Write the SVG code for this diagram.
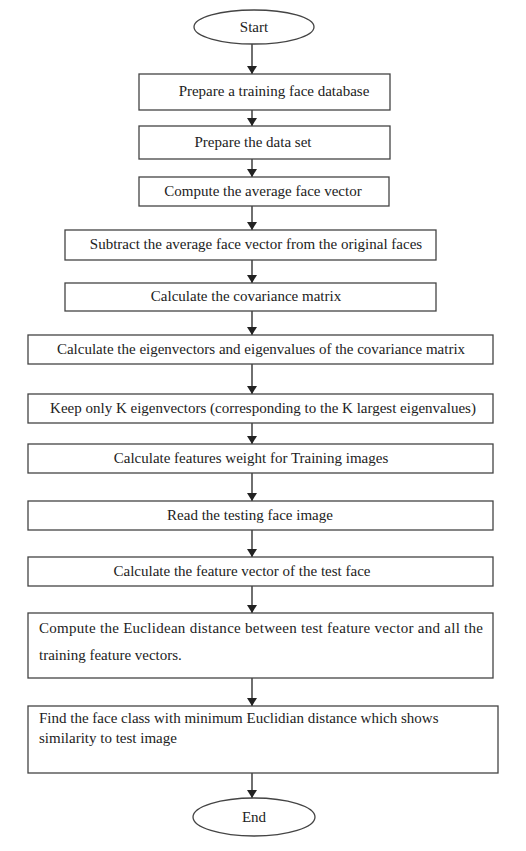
<svg xmlns="http://www.w3.org/2000/svg" width="526" height="851" viewBox="0 0 526 851">
<defs>
<marker id="ah" viewBox="0 0 8 10" refX="8" refY="5" markerWidth="8" markerHeight="10" markerUnits="userSpaceOnUse" orient="auto">
<path d="M0,0 L8,5 L0,10 Z" fill="#222"/>
</marker>
<style>
.b{fill:#fff;stroke:#444;stroke-width:1.3}
.t{font-family:"Liberation Serif","Times New Roman",serif;font-size:15px;fill:#222}
.c{text-anchor:middle}
.a{stroke:#222;stroke-width:1.3;fill:none;marker-end:url(#ah)}
</style>
</defs>
<rect width="526" height="851" fill="#fff"/>
<g id="connectors">
<line class="a" x1="252" y1="44" x2="252" y2="74"/>
<line class="a" x1="252" y1="110" x2="252" y2="126"/>
<line class="a" x1="252" y1="159" x2="252" y2="177"/>
<line class="a" x1="252" y1="206" x2="252" y2="230"/>
<line class="a" x1="252" y1="260" x2="252" y2="283"/>
<line class="a" x1="252" y1="311" x2="252" y2="335"/>
<line class="a" x1="252" y1="364" x2="252" y2="394"/>
<line class="a" x1="252" y1="423" x2="252" y2="444"/>
<line class="a" x1="252" y1="473" x2="252" y2="501"/>
<line class="a" x1="252" y1="530" x2="252" y2="557"/>
<line class="a" x1="252" y1="586" x2="252" y2="613"/>
<line class="a" x1="252" y1="678" x2="252" y2="706"/>
<line class="a" x1="252" y1="773" x2="252" y2="798"/>
</g>
<g id="start"><ellipse class="b" cx="254" cy="27" rx="60" ry="17"/><text class="t c" x="254" y="32">Start</text></g>
<g id="n1"><rect class="b" x="139" y="74" width="251" height="36"/><text class="t c" x="274" y="96">Prepare a training face database</text></g>
<g id="n2"><rect class="b" x="139" y="126" width="251" height="33"/><text class="t c" x="253" y="147">Prepare the data set</text></g>
<g id="n3"><rect class="b" x="139" y="177" width="250" height="29"/><text class="t c" x="263" y="196">Compute the average face vector</text></g>
<g id="n4"><rect class="b" x="65" y="230" width="371" height="30"/><text class="t c" x="256" y="249">Subtract the average face vector from the original faces</text></g>
<g id="n5"><rect class="b" x="65" y="283" width="371" height="28"/><text class="t c" x="246" y="301">Calculate the covariance matrix</text></g>
<g id="n6"><rect class="b" x="28" y="335" width="465" height="29"/><text class="t c" x="261" y="354">Calculate the eigenvectors and eigenvalues of the covariance matrix</text></g>
<g id="n7"><rect class="b" x="28" y="394" width="465" height="29"/><text class="t c" x="263" y="413">Keep only K eigenvectors (corresponding to the K largest eigenvalues)</text></g>
<g id="n8"><rect class="b" x="28" y="444" width="465" height="29"/><text class="t c" x="251" y="463">Calculate features weight for Training images</text></g>
<g id="n9"><rect class="b" x="28" y="501" width="465" height="29"/><text class="t c" x="250" y="520">Read the testing face image</text></g>
<g id="n10"><rect class="b" x="28" y="557" width="465" height="29"/><text class="t c" x="242" y="576">Calculate the feature vector of the test face</text></g>
<g id="n11"><rect class="b" x="28" y="613" width="465" height="65"/><text class="t" x="39" y="633" textLength="444" lengthAdjust="spacing">Compute the Euclidean distance between test feature vector and all the</text><text class="t" x="39" y="660">training feature vectors.</text></g>
<g id="n12"><rect class="b" x="28" y="706" width="470" height="67"/><text class="t" x="39" y="723">Find the face class with minimum Euclidian distance which shows</text><text class="t" x="39" y="743">similarity to test image</text></g>
<g id="end"><ellipse class="b" cx="254" cy="817" rx="61" ry="19"/><text class="t c" x="254" y="822">End</text></g>
</svg>
